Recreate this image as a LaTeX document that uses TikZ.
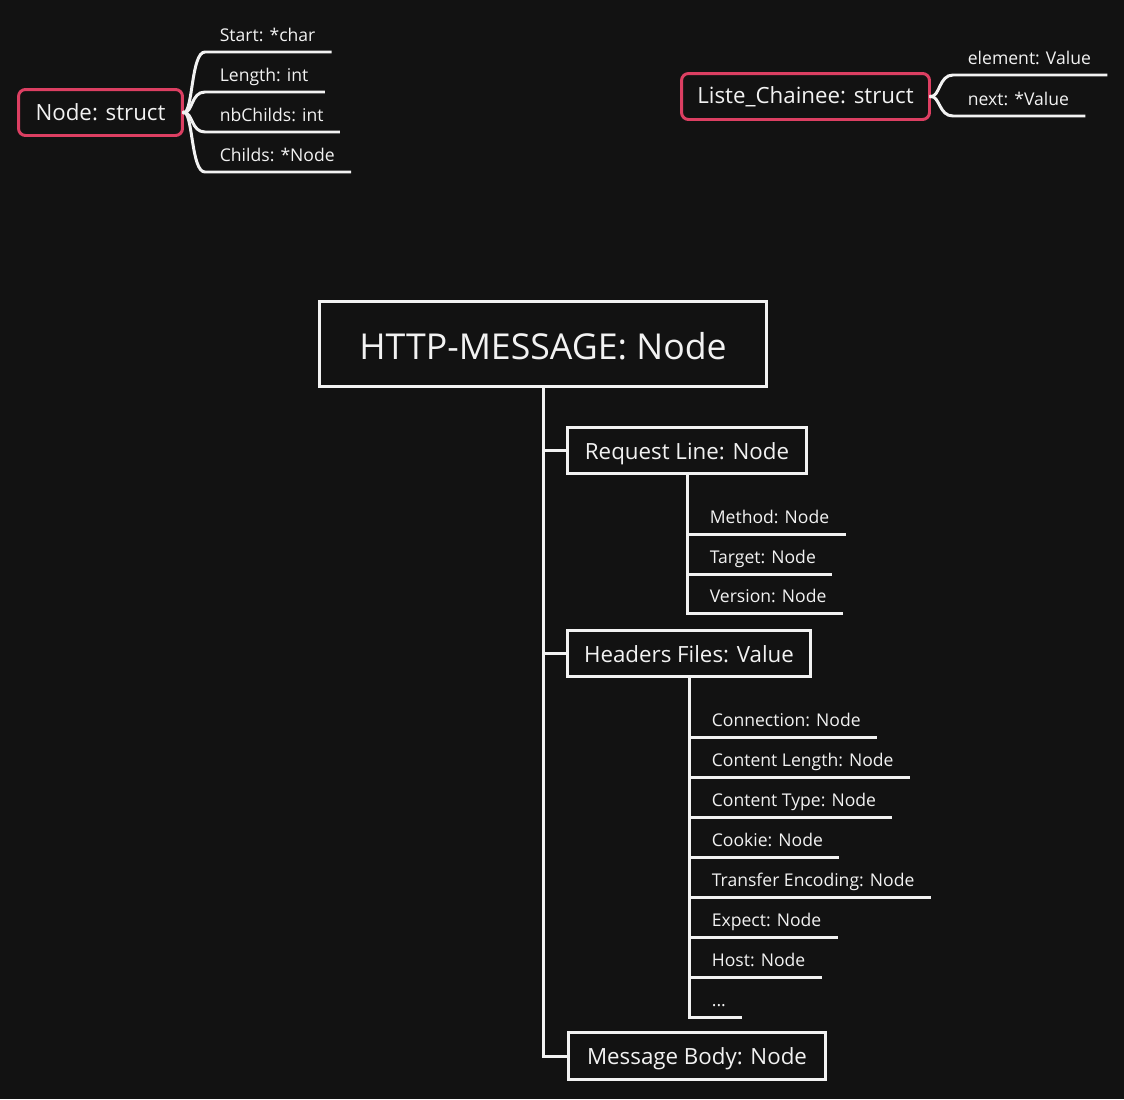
\documentclass[tikz,border=0pt]{standalone}
\usepackage{fontspec}
\setmainfont{Open Sans}
\usetikzlibrary{positioning}
\definecolor{bgdark}{HTML}{121212}
\definecolor{fgwhite}{HTML}{F2F2F2}
\definecolor{structpink}{HTML}{DC3F62}
\tikzset{
  tree/.style={draw=fgwhite, line width=1.7pt, line cap=rect},
  box/.style={draw=fgwhite, line width=1.7pt, text=fgwhite, inner sep=0pt,
    font=\fontsize{12.7}{15}\selectfont},
  partbox/.style={box, text height=0.44cm, text depth=0.1cm},
  structbox/.style={box, draw=structpink, rounded corners=4pt},
  field/.style={anchor=south west, text=fgwhite, inner xsep=0.29cm, inner ysep=0.12cm,
    text depth=0.08cm, font=\fontsize{10}{12}\selectfont},
}

\begin{document}
\begin{tikzpicture}[x=0.02cm, y=-0.02cm]
  \fill[bgdark] (0,0) rectangle (1124,1099);

  % les structures
  \node[structbox, minimum width=3.28cm, minimum height=0.92cm] (ns) at (100.5,112.5) {Node: struct};
  \foreach \nm/\lbl/\y in {st/Start: *char/52, ln/Length: int/92, nb/nbChilds: int/132, ch/Childs: *Node/172}
  {
    \node[field] (\nm) at (205,\y) {\lbl};
    \draw[tree] (ns.east) .. controls +(9,0) and +(-14,0) .. (\nm.south west) -- (\nm.south east);
  }

  \node[structbox, minimum width=4.96cm, minimum height=0.92cm] (lc) at (805.5,96.5) {Liste\_Chainee: struct};
  \foreach \nm/\lbl/\y in {el/element: Value/75, nx/next: *Value/116}
  {
    \node[field] (\nm) at (953,\y) {\lbl};
    \draw[tree] (lc.east) .. controls +(9,0) and +(-14,0) .. (\nm.south west) -- (\nm.south east);
  }

  % le message HTTP
  \node[box, minimum width=8.94cm, minimum height=1.70cm, text height=0.6cm, text depth=0pt,
    font=\fontsize{20.3}{24}\selectfont] (http) at (543,344) {HTTP-MESSAGE: Node};
  \node[partbox, minimum width=4.78cm, minimum height=0.92cm] (rl) at (687,450.5) {Request Line: Node};
  \node[partbox, minimum width=4.86cm, minimum height=0.92cm] (hf) at (689,653.5) {Headers Files: Value};
  \node[partbox, minimum width=5.14cm, minimum height=0.94cm] (mb) at (697,1056) {Message Body: Node};
  \draw[tree] (http.south) |- (mb.west);
  \draw[tree] (http.south |- rl.west) -- (rl.west);
  \draw[tree] (http.south |- hf.west) -- (hf.west);

  \foreach \nm/\lbl/\y in {me/Method: Node/534, ta/Target: Node/574, ve/Version: Node/613}
  {
    \node[field] (\nm) at (695,\y) {\lbl};
    \draw[tree] (rl.south |- \nm.south) -- (\nm.south east);
  }
  \draw[tree] (rl.south) -- (rl.south |- ve.south);

  \foreach \nm/\lbl/\y in {cn/Connection: Node/737, cl/Content Length: Node/777, ct/Content Type: Node/817,
    ck/Cookie: Node/857, te/Transfer Encoding: Node/897, ex/Expect: Node/937, ho/Host: Node/977}
  {
    \node[field] (\nm) at (697,\y) {\lbl};
    \draw[tree] (hf.south |- \nm.south) -- (\nm.south east);
  }
  \node[field] (more) at (697,1017) {...};
  \draw[tree] (hf.south) |- (more.south east);
\end{tikzpicture}
\end{document}
